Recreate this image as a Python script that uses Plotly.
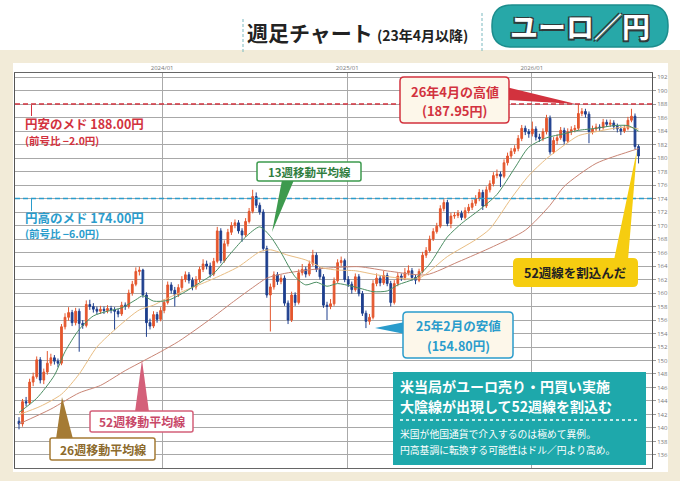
import plotly.graph_objects as go
import pandas as pd

# ---------------- data ----------------
week_start = "2023-03-24"

opens = [141.0,140.6,143.9,143.7,146.8,147.6,150.1,147.1,148.3,149.6,
150.4,149.9,149.6,155.0,156.4,157.1,155.6,157.3,155.5,155.2,
158.3,158.0,157.6,157.3,157.6,157.4,157.7,157.5,157.3,156.9,
158.2,158.0,160.0,161.3,163.2,163.4,159.7,155.6,155.1,156.8,
156.1,157.4,158.6,161.2,160.4,159.8,160.8,162.0,162.7,161.9,
160.9,162.0,163.5,164.3,164.0,162.8,164.7,169.2,164.8,167.3,
169.0,170.0,170.4,169.2,168.6,170.6,172.1,174.3,173.0,172.0,
166.6,159.7,160.9,162.7,161.7,162.2,158.5,156.0,159.7,158.6,
163.0,163.5,162.8,164.3,165.6,163.5,162.4,158.2,158.0,158.4,
161.8,164.5,164.8,162.0,161.3,160.5,162.4,159.9,157.0,155.8,
156.4,161.4,162.2,161.5,162.6,161.4,158.6,161.4,162.5,162.3,
163.0,163.3,162.3,161.9,163.2,165.6,166.3,168.0,169.1,169.9,
172.5,173.4,170.3,171.4,171.5,171.8,171.2,172.2,172.7,173.3,
174.0,174.9,172.9,175.3,176.2,177.4,177.6,177.3,179.3,180.3,
181.0,181.4,182.9,184.4,183.9,183.6,184.3,183.1,182.9,183.9,
185.9,180.9,182.6,183.0,184.1,182.5,183.9,184.2,184.4,186.6,
186.9,186.5,183.9,184.3,184.6,184.5,185.3,185.0,185.2,184.7,
184.3,184.0,184.4,185.6,186.2,181.7]

closes = [140.6,143.9,143.7,146.8,147.6,150.1,147.1,148.3,149.6,150.4,
149.9,149.6,155.0,156.4,157.1,155.6,157.3,155.5,155.2,158.3,
158.0,157.6,157.3,157.6,157.4,157.7,157.5,157.3,156.9,158.2,
158.0,160.0,161.3,163.2,163.4,159.7,155.6,155.1,156.8,156.1,
157.4,158.6,161.2,160.4,159.8,160.8,162.0,162.7,161.9,160.9,
162.0,163.5,164.3,164.0,162.8,164.7,169.2,164.8,167.3,169.0,
170.0,170.4,169.2,168.6,170.6,172.1,174.3,173.0,172.0,166.6,
159.7,160.9,162.7,161.7,162.2,158.5,156.0,159.7,158.6,163.0,
163.5,162.8,164.3,165.6,163.5,162.4,158.2,158.0,158.4,161.8,
164.5,164.8,162.0,161.3,160.5,162.4,159.9,157.0,155.8,156.4,
161.4,162.2,161.5,162.6,161.4,158.6,161.4,162.5,162.3,163.0,
163.3,162.3,161.9,163.2,165.6,166.3,168.0,169.1,169.9,172.5,
173.4,170.3,171.4,171.5,171.8,171.2,172.2,172.7,173.3,174.0,
174.9,172.9,175.3,176.2,177.4,177.6,177.3,179.3,180.3,181.0,
181.4,182.9,184.4,183.9,183.6,184.3,183.1,182.9,183.9,185.9,
180.9,182.6,183.0,184.1,182.5,183.9,184.2,184.4,186.6,186.9,
186.5,183.9,184.3,184.6,184.5,185.3,185.0,185.2,184.7,184.3,
184.0,184.4,185.6,186.2,181.7,180.3]

highs = [141.6,144.3,144.6,147.3,148.2,150.6,150.5,148.8,151.4,151.0,
150.8,150.3,155.4,157.0,157.9,157.5,157.8,157.7,156.0,158.9,
159.0,158.5,158.0,158.1,158.0,158.2,158.1,157.9,157.7,158.7,
158.6,160.5,161.8,163.8,163.9,163.6,160.1,156.2,157.3,157.2,
157.9,159.1,161.7,161.6,160.9,161.3,162.5,163.2,163.1,162.3,
162.5,163.9,165.0,164.8,164.5,165.2,169.8,169.6,167.8,169.5,
170.5,170.9,170.8,169.6,171.1,172.6,175.3,174.9,173.4,172.4,
167.0,161.4,163.2,163.1,162.7,162.6,158.9,160.2,160.1,163.5,
164.3,163.9,164.8,166.4,166.0,163.9,162.8,158.7,159.1,162.3,
165.0,165.4,165.1,162.5,161.7,162.9,162.8,160.3,157.4,156.9,
161.9,162.9,162.6,163.3,163.0,161.8,161.9,163.0,162.9,163.7,
164.1,163.7,162.7,163.6,166.1,166.8,168.5,169.6,170.4,173.0,
173.9,173.8,171.9,172.0,172.3,172.2,172.7,173.2,173.8,174.5,
175.4,175.3,175.8,176.7,177.9,178.3,178.0,179.8,180.8,181.5,
181.9,183.4,184.9,184.8,184.3,185.4,184.7,183.6,184.4,186.4,
186.3,183.1,183.5,184.6,184.5,184.4,184.7,184.9,187.95,187.4,
187.3,186.9,184.8,185.1,185.0,185.8,185.7,185.7,185.6,185.1,
184.7,184.9,186.1,187.3,186.6,182.0]

lows = [139.8,140.2,143.2,143.4,146.2,147.3,146.6,146.5,147.9,149.2,
149.4,149.0,149.3,154.6,155.9,155.1,155.2,151.3,154.7,154.9,
157.5,157.1,156.8,156.9,156.9,157.0,157.0,154.5,156.4,156.6,
157.5,157.7,159.6,161.0,162.6,159.3,153.5,154.6,154.8,155.6,
155.8,157.0,158.3,159.9,158.0,159.4,160.4,161.6,161.4,160.4,
160.5,161.6,163.1,163.5,162.3,162.5,164.4,164.4,164.5,166.9,
168.6,169.6,168.8,167.6,168.3,170.3,171.8,172.6,171.6,166.2,
159.3,154.3,160.5,161.2,161.3,158.1,155.4,155.7,158.1,158.3,
162.6,162.3,162.5,164.0,163.1,162.0,157.8,156.0,157.6,158.1,
161.5,164.0,161.6,160.9,159.9,160.2,159.5,156.6,154.8,155.3,
156.1,161.0,161.0,161.2,161.0,158.0,158.3,161.0,161.8,161.9,
162.6,161.8,161.3,161.6,162.9,165.2,166.0,167.7,168.8,169.6,
172.1,169.9,169.6,171.0,171.1,170.8,170.9,171.8,172.3,172.9,
173.6,172.3,172.6,174.9,175.8,177.0,175.7,177.0,178.9,179.9,
180.6,181.0,182.5,183.4,183.0,183.2,182.6,182.4,182.5,183.5,
180.5,180.6,182.0,182.7,182.0,182.2,183.4,183.8,184.1,186.2,
186.0,182.2,183.5,183.9,184.0,184.2,184.6,184.6,184.2,183.8,
183.4,183.7,184.1,185.3,181.3,179.2]

# moving averages (week index, value)
ma13_week = [0,5,10,13,17,21,25,29,33,35,38,42,46,51,55,60,64,68,71,74,78,81,84,87,90,94,97,100,104,107,112,116,121,125,130,135,140,144,149,154,158,163,168,172,175]
ma13_val = [142.3,144.4,147.8,151.3,154.6,156.6,157.3,157.8,159.0,159.6,158.8,158.9,159.9,161.5,162.9,166.0,168.3,169.8,168.4,166.0,162.4,161.2,161.6,161.0,161.4,161.0,160.6,160.2,160.3,161.2,162.2,164.3,168.3,170.3,172.3,174.6,178.5,181.6,183.0,183.6,184.1,184.4,184.8,184.8,184.0]

ma26_week = [0,6,12,17,22,28,34,38,41,47,54,62,68,71,76,81,86,90,95,100,106,113,121,129,133,139,144,149,154,158,163,168,172,175]
ma26_val = [142.0,143.2,145.0,148.0,152.0,155.0,157.5,158.2,159.0,160.4,161.9,163.9,166.1,166.4,165.6,164.9,163.7,163.4,163.3,162.8,162.3,162.2,165.4,167.9,169.5,174.0,177.4,179.9,181.9,183.3,183.9,184.4,184.6,184.3]

ma52_week = [0,9,17,23,30,35,40,45,50,55,60,66,70,75,80,85,90,96,105,115,124,134,143,150,154,163,172,175]
ma52_val = [140.6,142.8,145.2,146.3,148.5,149.9,151.3,152.8,154.6,156.5,158.5,160.8,162.2,162.9,163.3,163.6,163.8,163.9,163.2,162.7,164.6,166.9,169.3,173.0,175.8,179.2,180.9,181.4]

year_ticks = ["2024-01-01", "2025-01-01", "2026-01-01"]
year_labels = ["2024/01", "2025/01", "2026/01"]
price_ticks = list(range(136, 193, 2))
target_high = 188.0
target_low = 174.0

# ---------------- figure ----------------
JP = "Noto Sans CJK JP"
dates = pd.date_range(week_start, periods=len(closes), freq="7D")
d0 = pd.Timestamp(week_start)
def wk(i):
    return d0 + pd.Timedelta(days=7 * i)

PL, PR, PT, PB = 15, 652, 73, 468
def fx(x): return (x - PL) / (PR - PL)
def fy(y): return (PB - y) / (PB - PT)

fig = go.Figure()
fig.add_trace(go.Candlestick(
    x=dates, open=opens, high=highs, low=lows, close=closes,
    increasing=dict(line=dict(color="#e4572e", width=1), fillcolor="#e4572e"),
    decreasing=dict(line=dict(color="#1e3f8e", width=1), fillcolor="#1e3f8e"),
    whiskerwidth=0, hoverinfo="skip"))

for wks, vals, col in [(ma52_week, ma52_val, "#c98575"),
                       (ma26_week, ma26_val, "#e9bd82"),
                       (ma13_week, ma13_val, "#4b8e62")]:
    fig.add_trace(go.Scatter(x=[wk(i) for i in wks], y=vals, mode="lines",
                             line=dict(color=col, width=1, shape="spline", smoothing=0.7),
                             hoverinfo="skip"))

shapes = []
shapes.append(dict(type="rect", xref="paper", yref="paper", x0=fx(0), x1=fx(680), y0=fy(50), y1=fy(481),
                   fillcolor="#f2ebd8", line=dict(width=0), layer="below"))
shapes.append(dict(type="rect", xref="paper", yref="paper", x0=fx(13), x1=fx(668), y0=fy(63), y1=fy(472),
                   fillcolor="#ffffff", line=dict(width=0), layer="below"))
shapes.append(dict(type="line", xref="paper", yref="y", x0=0, x1=1, y0=target_high, y1=target_high,
                   line=dict(color="#d2323e", width=1.6, dash="5px,3px")))
shapes.append(dict(type="line", xref="paper", yref="y", x0=0, x1=1, y0=target_low, y1=target_low,
                   line=dict(color="#2a9ccc", width=1.6, dash="5px,3px")))
shapes.append(dict(type="line", xref="paper", yref="paper", x0=fx(31.5), x1=fx(31.5), y0=fy(105), y1=fy(116),
                   line=dict(color="#d2323e", width=1)))
shapes.append(dict(type="line", xref="paper", yref="paper", x0=fx(31.5), x1=fx(31.5), y0=fy(199), y1=fy(211),
                   line=dict(color="#2a9ccc", width=1)))

def pth(pts):
    return "M " + " L ".join(f"{fx(x):.5f},{fy(y):.5f}" for x, y in pts) + " Z"

def rr(x0, y0, x1, y1, r):
    P = lambda x, y: f"{fx(x):.5f},{fy(y):.5f}"
    return (f"M {P(x0+r,y0)} L {P(x1-r,y0)} Q {P(x1,y0)} {P(x1,y0+r)} L {P(x1,y1-r)} "
            f"Q {P(x1,y1)} {P(x1-r,y1)} L {P(x0+r,y1)} Q {P(x0,y1)} {P(x0,y1-r)} "
            f"L {P(x0,y0+r)} Q {P(x0,y0)} {P(x0+r,y0)} Z")

def tri(pts, col):
    shapes.append(dict(type="path", xref="paper", yref="paper", path=pth(pts),
                       fillcolor=col, line=dict(width=0), layer="above"))

def box(x0, y0, x1, y1, r, fill, border=None, bw=1.5):
    shapes.append(dict(type="path", xref="paper", yref="paper", path=rr(x0, y0, x1, y1, r),
                       fillcolor=fill, line=dict(color=border or fill, width=bw if border else 0),
                       layer="above"))

tri([(282, 180), (294, 180), (272, 232)], "#3d9a4e")
box(257, 162, 361, 181, 2, "#ffffff", "#3d9a4e")
tri([(506, 87), (506, 100), (576, 104)], "#d2323e")
box(400, 77, 509, 123, 4, "#fdf7ea", "#d2323e")
tri([(614, 260), (628, 260), (637, 150)], "#f6cd10")
box(513, 258, 638, 287, 5, "#f6cd10")
tri([(405, 322), (405, 334), (375, 328)], "#2a9ccc")
box(403, 312, 513, 358, 4, "#fdf7ea", "#2a9ccc")
tri([(135, 412), (149, 412), (142, 360)], "#d4607a")
box(90, 411, 193, 432, 2, "#ffffff", "#d4607a")
tri([(56, 439), (73, 439), (62, 397)], "#a57b35")
box(50, 438, 155, 460, 2, "#ffffff", "#a57b35")
shapes.append(dict(type="rect", xref="paper", yref="paper", x0=fx(393), x1=fx(646), y0=fy(372), y1=fy(465),
                   fillcolor="#1ea8ab", line=dict(width=0), layer="above"))
shapes.append(dict(type="line", xref="paper", yref="paper", x0=fx(400), x1=fx(637), y0=fy(420), y1=fy(420),
                   line=dict(color="#ffffff", width=1.5, dash="dot"), layer="above"))
shapes.append(dict(type="line", xref="paper", yref="paper", x0=fx(243), x1=fx(243), y0=fy(19), y1=fy(52),
                   line=dict(color="#7bb9c0", width=1, dash="3px,2px")))
shapes.append(dict(type="line", xref="paper", yref="paper", x0=fx(482), x1=fx(482), y0=fy(13), y1=fy(52),
                   line=dict(color="#7bb9c0", width=1, dash="3px,2px")))
shapes.append(dict(type="path", xref="paper", yref="paper", path=rr(492, 5, 668, 47, 20),
                   fillcolor="#27a8a8", line=dict(color="#1c8d8d", width=1.5), layer="above"))

annos = []
def txt(x, y, s, size, color, xanchor="center", bold=True, shadow=None):
    f = dict(family=JP, size=size, color=color)
    if shadow:
        f["shadow"] = shadow
    annos.append(dict(xref="paper", yref="paper", x=fx(x), y=fy(y), text=(f"<b>{s}</b>" if bold else s),
                      showarrow=False, font=f, xanchor=xanchor, yanchor="middle", borderpad=0))

txt(24, 123, "円安のメド 188.00円", 12.5, "#d2323e", "left")
txt(24, 140, "(前号比 −2.0円)", 10.5, "#d2323e", "left")
txt(24, 217, "円高のメド 174.00円", 12.5, "#2a9ccc", "left")
txt(24, 234, "(前号比 −6.0円)", 10.5, "#2a9ccc", "left")
txt(309, 171.5, "13週移動平均線", 11.5, "#2f7d3e")
txt(454.5, 91, "26年4月の高値", 13, "#d2323e")
txt(454.5, 111, "(187.95円)", 13, "#d2323e")
txt(575.5, 272.5, "52週線を割込んだ", 12.5, "#222222")
txt(458, 325, "25年2月の安値", 12.5, "#2a9ccc")
txt(458, 345, "(154.80円)", 12.5, "#2a9ccc")
txt(141.5, 421.5, "52週移動平均線", 12, "#c84868")
txt(102.5, 449, "26週移動平均線", 12, "#8c6a2c")
txt(399, 385.5, "米当局がユーロ売り・円買い実施", 14, "#ffffff", "left")
txt(399, 405.5, "大陰線が出現して52週線を割込む", 14, "#ffffff", "left")
txt(399, 434, "米国が他国通貨で介入するのは極めて異例。", 9.8, "#ffffff", "left", bold=False)
txt(399, 450, "円高基調に転換する可能性はドル／円より高め。", 9.8, "#ffffff", "left", bold=False)
txt(246, 32, "週足チャート", 21, "#222222", "left")
txt(376, 35, "(23年4月以降)", 14, "#222222", "left")
txt(580, 26, "ユーロ／円", 28, "#ffffff",
    shadow="-1.5px -1.5px 0 #2f3b3b, 1.5px -1.5px 0 #2f3b3b, -1.5px 1.5px 0 #2f3b3b, 1.5px 1.5px 0 #2f3b3b")

rng_x = [d0 + pd.Timedelta(days=7 * -1.13), d0 + pd.Timedelta(days=7 * 178.8)]
fig.update_layout(
    width=680, height=481, margin=dict(l=PL, r=680 - PR, t=PT, b=481 - PB, autoexpand=False),
    paper_bgcolor="#ffffff", plot_bgcolor="rgba(0,0,0,0)", showlegend=False,
    shapes=shapes, annotations=annos,
    xaxis=dict(type="date", range=rng_x, side="top", tickmode="array", tickvals=year_ticks,
               ticktext=year_labels, tickfont=dict(size=6, color="#777777"), showgrid=True,
               gridcolor="#aaaaaa", gridwidth=1, showline=True, linecolor="#666666", mirror=True,
               ticks="", zeroline=False, rangeslider=dict(visible=False), automargin=False),
    yaxis=dict(range=[134.07, 192.6], side="right", tickmode="array", tickvals=price_ticks,
               tickfont=dict(size=6, color="#777777"), showgrid=True, gridcolor="#a8a8a8", gridwidth=1,
               ticks="outside", ticklen=3, tickcolor="#999999", showline=True, linecolor="#555555",
               mirror=True, zeroline=False, automargin=False),
)
fig.write_html("out.html", config={"displayModeBar": False},
               post_script="document.body.style.margin='0px';")
